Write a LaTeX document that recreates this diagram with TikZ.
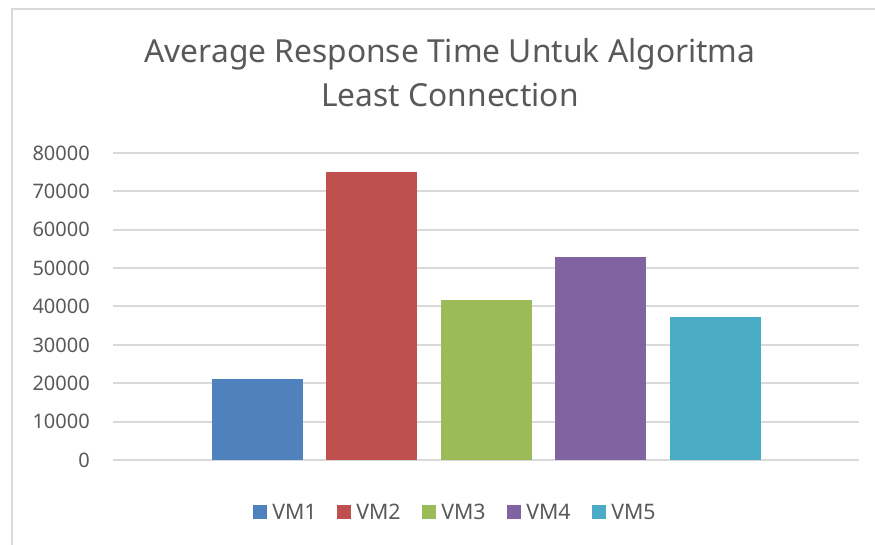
\documentclass[tikz,border=0pt]{standalone}
\usepackage{fontspec}
\setmainfont{Noto Sans}
\definecolor{vmA}{HTML}{4F81BD}
\definecolor{vmB}{HTML}{C0504D}
\definecolor{vmC}{HTML}{9BBB59}
\definecolor{vmD}{HTML}{8064A2}
\definecolor{vmE}{HTML}{4BACC6}
\definecolor{chartText}{HTML}{595959}
\definecolor{chartGrid}{HTML}{D9D9D9}
\newcommand{\RTUnit}{3.8375}

\begin{document}
\begin{tikzpicture}[x=0.75pt, y=-0.75pt,
		gridline/.style={chartGrid, line width=1.5pt},
		titletext/.style={anchor=base, text=chartText, font=\fontsize{23.8}{28}\selectfont, inner sep=0pt},
		ticklabel/.style={anchor=east, text=chartText, font=\fontsize{15}{18}\selectfont, inner sep=0pt},
		legendtext/.style={anchor=west, text=chartText, font=\fontsize{16}{19}\selectfont, inner sep=0pt}]
		\useasboundingbox (0,0) rectangle (875,545);
		\fill[white] (0,0) rectangle (875,545);
		% chart border
		\draw[chartGrid, line width=1.5pt] (12,545) -- (12,9) -- (875,9);
		% title
		\node[titletext] (title1) at (450,63) {Average Response Time Untuk Algoritma};
		\node[titletext] (title2) at (450,107) {Least Connection};
		% grid and axis labels
		\foreach \v [count=\i from 0] in {0,10000,20000,30000,40000,50000,60000,70000,80000} {
			\coordinate (g\i) at (113,{460-\RTUnit*10*\i});
			\coordinate (h\i) at (859,{460-\RTUnit*10*\i});
			\draw[gridline] (g\i) -- (h\i);
			\node[ticklabel] (t\i) at (90,{460-\RTUnit*10*\i}) {\v};
		}
		% bars (values in thousands)
		\foreach \x/\val/\c [count=\n] in {212/21.1/vmA, 326/75.0/vmB, 441/41.7/vmC, 555/52.9/vmD, 670/37.2/vmE} {
			\fill[\c] (\x,460) rectangle ++(91,{-\val*\RTUnit}) coordinate (b\n);
		}
		% legend
		\foreach \x/\c [count=\n] in {253/vmA, 337/vmB, 422/vmC, 507/vmD, 592/vmE} {
			\fill[\c] (\x,505) rectangle ++(14,14) coordinate (k\n);
			\node[legendtext] (l\n) at (\x+19,512) {VM\n};
		}
	\end{tikzpicture}
\end{document}
